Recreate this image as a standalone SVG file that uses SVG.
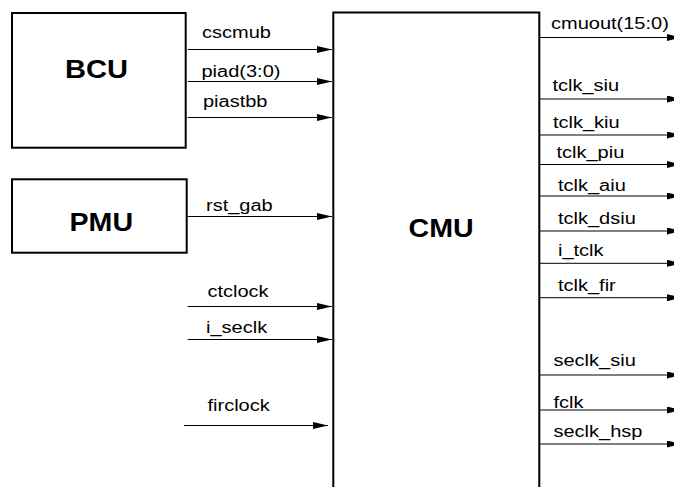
<svg xmlns="http://www.w3.org/2000/svg" width="674" height="487" viewBox="0 0 674 487">
<style>
.box{fill:#fff;stroke:#000;stroke-width:2}
.big{font-family:"Liberation Sans",Arial,sans-serif;font-weight:bold;font-size:26px;fill:#000}
.lbl{font-family:"Liberation Sans",Arial,sans-serif;font-size:16px;fill:#000}
.con line{stroke:#000;stroke-width:1;marker-end:url(#ah)}
</style>
<defs>
<marker id="ah" viewBox="0 0 15 7" refX="15" refY="3.5" markerWidth="15" markerHeight="7" markerUnits="userSpaceOnUse" orient="auto">
<path d="M0,0 L15,3.5 L0,7 Z" fill="#000"/>
</marker>
</defs>
<rect width="674" height="487" fill="#fff"/>
<g id="BCU">
<rect class="box" x="12" y="13" width="173.7" height="134.7"/>
<text class="big" transform="translate(65,78.3) scale(1.12,1)">BCU</text>
</g>
<g id="PMU">
<rect class="box" x="12" y="179.3" width="174.7" height="73.4"/>
<text class="big" transform="translate(69.5,230.5) scale(1.1,1)">PMU</text>
</g>
<g id="CMU">
<path class="box" d="M333.3,500 V12.5 H539.3 V500"/>
<text class="big" transform="translate(408.5,236.5) scale(1.1,1)">CMU</text>
</g>
<g id="connectors" class="con">
<line x1="187.7" y1="49.5" x2="332" y2="49.5"/>
<line x1="187.7" y1="81.5" x2="332" y2="81.5"/>
<line x1="187.7" y1="117.5" x2="332" y2="117.5"/>
<line x1="187.7" y1="216.5" x2="332" y2="216.5"/>
<line x1="187.7" y1="306.5" x2="332" y2="306.5"/>
<line x1="187.7" y1="339.5" x2="332" y2="339.5"/>
<line x1="184" y1="425.5" x2="328" y2="425.5"/>
<line x1="539.3" y1="37.5" x2="682" y2="37.5"/>
<line x1="539.3" y1="99" x2="682" y2="99"/>
<line x1="539.3" y1="135" x2="682" y2="135"/>
<line x1="539.3" y1="164.5" x2="682" y2="164.5"/>
<line x1="539.3" y1="196" x2="682" y2="196"/>
<line x1="539.3" y1="231" x2="682" y2="231"/>
<line x1="539.3" y1="263.3" x2="682" y2="263.3"/>
<line x1="539.3" y1="297.7" x2="682" y2="297.7"/>
<line x1="539.3" y1="375" x2="682" y2="375"/>
<line x1="539.3" y1="410" x2="682" y2="410"/>
<line x1="539.3" y1="444" x2="682" y2="444"/>
</g>
<g id="labels" class="lbl">
<text transform="translate(202,38.3) scale(1.25,1)">cscmub</text>
<text transform="translate(201.5,77) scale(1.25,1)">piad(3:0)</text>
<text transform="translate(203,107.3) scale(1.25,1)">piastbb</text>
<text transform="translate(206,210.7) scale(1.25,1)">rst_gab</text>
<text transform="translate(207.5,297.3) scale(1.25,1)">ctclock</text>
<text transform="translate(206,332.7) scale(1.25,1)">i_seclk</text>
<text transform="translate(207.5,411.3) scale(1.25,1)">firclock</text>
<text transform="translate(551,29.3) scale(1.25,1)">cmuout(15:0)</text>
<text transform="translate(552.5,90.7) scale(1.25,1)">tclk_siu</text>
<text transform="translate(553,128.3) scale(1.25,1)">tclk_kiu</text>
<text transform="translate(556.5,158.3) scale(1.25,1)">tclk_piu</text>
<text transform="translate(558,190.7) scale(1.25,1)">tclk_aiu</text>
<text transform="translate(558,224.3) scale(1.25,1)">tclk_dsiu</text>
<text transform="translate(558,255.7) scale(1.25,1)">i_tclk</text>
<text transform="translate(558,291) scale(1.25,1)">tclk_fir</text>
<text transform="translate(553.5,365.7) scale(1.25,1)">seclk_siu</text>
<text transform="translate(553.5,408.3) scale(1.25,1)">fclk</text>
<text transform="translate(553.5,436.7) scale(1.25,1)">seclk_hsp</text>
</g>
</svg>
